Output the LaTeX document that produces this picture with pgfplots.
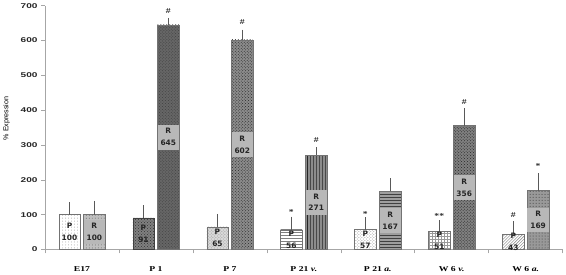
\documentclass[border=0pt]{standalone}
\usepackage{fontspec}
\usepackage{pgfplots}
\pgfplotsset{compat=1.18}
\usetikzlibrary{patterns}
\newfontfamily\tickfont[FakeStretch=1.45]{Liberation Sans}
\newfontfamily\ylabfont{Liberation Sans}
\newfontfamily\xfont[FakeStretch=1.3]{Liberation Serif}
\newfontfamily\labfont{DejaVu Sans}
\pgfplotsset{
  barbase/.style={draw=black!55, line width=0.5pt,
    visualization depends on={y \as \rawy},
    nodes near coords style={anchor=center, inner sep=0pt, minimum width=21.5pt, minimum height=25pt, align=center,
      font=\labfont\bfseries\fontsize{7.5}{12}\selectfont, text=black!85,
      shift={(axis direction cs:0,-\rawy/2)}},
    error bars/y dir=plus, error bars/y explicit,
    error bars/error bar style={black!65, line width=0.6pt},
    error bars/error mark options={black!65, mark size=2.6pt, line width=0.6pt}},
  Pl/.style={barbase, nodes near coords={P\\\pgfmathprintnumber{\pgfplotspointmeta}}},
  Rl/.style={barbase, nodes near coords={R\\\pgfmathprintnumber{\pgfplotspointmeta}},
    nodes near coords style={fill=black!28}},
}
\begin{document}
\begin{tikzpicture}
\begin{axis}[
  scale only axis, width=521.5pt, height=245.5pt,
  xmin=-0.5, xmax=6.5, ymin=0, ymax=700,
  ybar, bar width=21.5pt, bar shift=0pt,
  point meta=y,
  /pgf/number format/assume math mode=true,
  axis x line*=bottom, axis y line*=left,
  axis line style={-, draw=black!35, line width=0.6pt},
  tick align=outside, major tick length=4pt,
  tick style={draw=black!35, line width=0.6pt},
  ytick={0,100,...,700},
  yticklabel style={font=\tickfont\bfseries\fontsize{7}{8}\selectfont, text=black!85},
  xtick={-0.5,0.5,...,5.5},
  xticklabels={E17,P 1,P 7,P 21 \textit{v.},P 21 \textit{a.},W 6 \textit{v.},W 6 \textit{a.}},
  xticklabel style={font=\xfont\bfseries\fontsize{7.5}{8}\selectfont, xshift=37.25pt, anchor=base, yshift=-18pt},
  extra x ticks={6.5}, extra x tick labels={},
  extra x tick style={xticklabel style={xshift=-37.25pt}},
  ylabel={\% Expression},
  every axis y label/.style={at={(axis description cs:-0.074,0.538)}, rotate=90, anchor=center,
    font=\ylabfont\fontsize{7.2}{8}\selectfont},
  clip=false,
]
% E17
\addplot[Pl, fill=white, postaction={pattern=dots, pattern color=black!35}] coordinates {(-0.168,100) +- (0,28)};
\addplot[Rl, fill=black!25, postaction={pattern=dots, pattern color=black!60}] coordinates {(0.168,100) +- (0,32)};
% P 1
\addplot[Pl, fill=black!50, draw=black!75, postaction={pattern=crosshatch dots, pattern color=black!80}] coordinates {(0.832,91) +- (0,29)};
\addplot[Rl, fill=black!60, postaction={pattern=crosshatch dots, pattern color=black!75}] coordinates {(1.168,645) +- (0,13)};
% P 7
\addplot[Pl, fill=black!15, postaction={pattern=crosshatch dots, pattern color=black!40}] coordinates {(1.832,65) +- (0,30)};
\addplot[Rl, fill=black!45, postaction={pattern=crosshatch dots, pattern color=black!85}] coordinates {(2.168,602) +- (0,22)};
% P 21 v.
\addplot[Pl, fill=white, postaction={pattern=horizontal lines, pattern color=black!50}] coordinates {(2.832,56) +- (0,31)};
\addplot[Rl, fill=black!45, postaction={pattern=vertical lines, pattern color=black!85}] coordinates {(3.168,271) +- (0,15)};
% P 21 a.
\addplot[Pl, fill=white, postaction={pattern=crosshatch dots, pattern color=black!40}] coordinates {(3.832,57) +- (0,28)};
\addplot[Rl, fill=black!38, postaction={pattern=horizontal lines, pattern color=black!75}] coordinates {(4.168,167) +- (0,30)};
% W 6 v.
\addplot[Pl, fill=white, postaction={pattern=grid, pattern color=black!40}] coordinates {(4.832,51) +- (0,26)};
\addplot[Rl, fill=black!50, postaction={pattern=crosshatch dots, pattern color=black!85}] coordinates {(5.168,356) +- (0,42)};
% W 6 a.
\addplot[Pl, fill=white, postaction={pattern=north east lines, pattern color=black!50}] coordinates {(5.832,43) +- (0,30)};
\addplot[Rl, fill=black!40, postaction={pattern=dots, pattern color=black!80}] coordinates {(6.168,169) +- (0,43)};
% significance marks
\addplot[draw=none, fill=none, point meta=explicit symbolic, nodes near coords,
  nodes near coords style={anchor=base, inner sep=0pt, font=\xfont\bfseries\fontsize{7.5}{8}\selectfont, text=black!85}]
  coordinates {(1.168,678)[\#] (2.168,647)[\#] (2.832,101)[*] (3.168,307)[\#] (3.832,95)[*]
               (4.832,90)[**] (5.168,417)[\#] (5.832,93)[\#] (6.168,232)[*]};
\end{axis}
\end{tikzpicture}
\end{document}
